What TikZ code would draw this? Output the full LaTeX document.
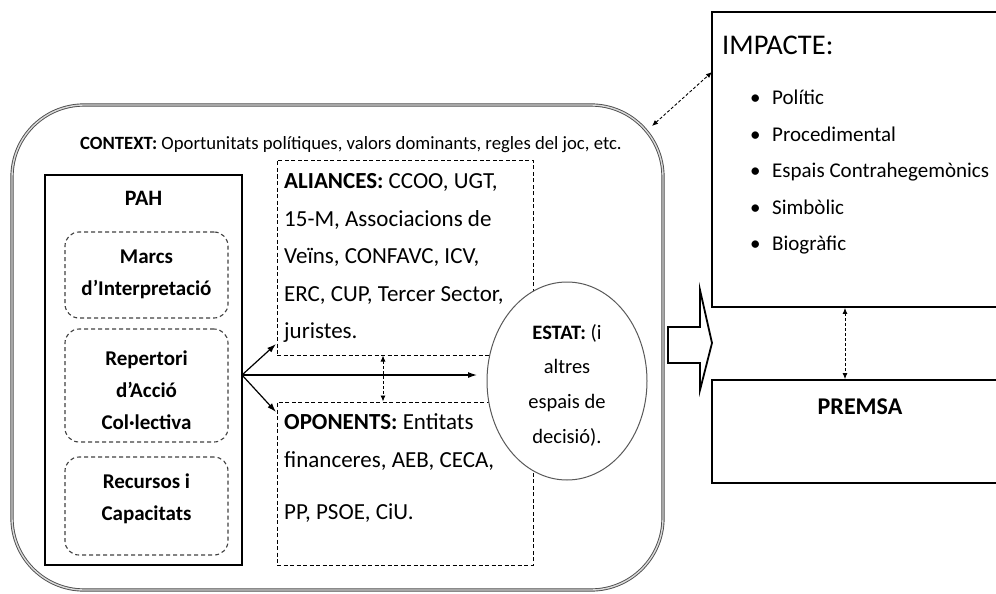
\documentclass[tikz,border=0pt]{standalone}
\usepackage{fontspec}
\setmainfont{Carlito}
\usetikzlibrary{arrows.meta,shapes.geometric}
\begin{document}
\begin{tikzpicture}[x=1pt,y=-1pt,
  outerbox/.style={draw=black!70, line width=0.9pt, double=white!85!black, double distance=1.4pt, rounded corners=72pt, minimum width=651pt, minimum height=485pt, inner sep=0pt},
  solidbox/.style={draw=black, line width=1.6pt, inner sep=0pt},
  dbox/.style={draw=black!75, line width=1.1pt, dash pattern=on 4pt off 3pt, rounded corners=14pt, minimum width=163pt, inner sep=0pt},
  drect/.style={draw=black, line width=1pt, dash pattern=on 4pt off 2.5pt, minimum width=256pt, inner sep=0pt},
  pahtxt/.style={font=\bfseries\fontsize{21}{32}\selectfont, align=center, inner sep=0pt},
  bodytxt/.style={font=\fontsize{23}{37.5}\selectfont, align=left, inner sep=0pt},
  arr/.style={-{Latex[length=9pt,width=6pt]}, line width=1.2pt},
  darr/.style={{Latex[length=6pt,width=5pt]}-{Latex[length=6pt,width=5pt]}, line width=0.9pt, dash pattern=on 3pt off 2pt},
]
\clip (0,0) rectangle (996,594);
\useasboundingbox (0,0) rectangle (996,594);

% outer context box
\node[outerbox] (ctx) at (337.5,347.5) {};
\node[font=\fontsize{18.7}{22}\selectfont, inner sep=0pt] (ctxtxt) at (351,145)
  {\textbf{CONTEXT:} Oportunitats polítiques, valors dominants, regles del joc, etc.};

% PAH
\node[solidbox, minimum width=197pt, minimum height=390pt] (pah) at (143.5,370) {};
\node[font=\bfseries\fontsize{22}{25}\selectfont, inner sep=0pt] (pahlbl) at (143.5,198) {PAH};
\node[dbox, minimum height=86pt] (marcs) at (146.5,275) {};
\node[pahtxt] (marcstxt) at (146.5,274) {Marcs\\d’Interpretació};
\node[dbox, minimum height=113pt] (rep) at (146.5,385.5) {};
\node[pahtxt] (reptxt) at (146.5,390) {Repertori\\d’Acció\\Col·lectiva};
\node[dbox, minimum height=98pt] (rec) at (146.5,506) {};
\node[pahtxt] (rectxt) at (146.5,499) {Recursos i\\Capacitats};

% ALIANCES / OPONENTS
\node[drect, minimum height=195pt] (al) at (405,257.5) {};
\node[bodytxt, anchor=north west] (altxt) at (284,173.5)
  {\textbf{ALIANCES:} CCOO, UGT,\\15-M, Associacions de\\Veïns, CONFAVC, ICV,\\ERC, CUP, Tercer Sector,\\juristes.};
\node[drect, minimum height=163pt] (op) at (405,483.5) {};
\node[bodytxt, anchor=north west] (optxt) at (284,413.5)
  {\textbf{OPONENTS:} Entitats\\financeres, AEB, CECA,\\[15pt]PP, PSOE, CiU.};

% ESTAT
\node[ellipse, draw=black!65, line width=1pt, fill=white, minimum width=160pt, minimum height=198pt, inner sep=0pt] (estat) at (567,381) {};
\node[font=\fontsize{20.5}{34.7}\selectfont, align=center, inner sep=0pt] (estattxt) at (567,385)
  {\textbf{ESTAT:} (i\\altres\\espais de\\decisió).};

% arrows from PAH
\coordinate (src) at (242,375);
\coordinate (a1) at (276,344);
\coordinate (a2) at (477,375);
\coordinate (a3) at (276,412);
\draw[arr] (src) -- (a1);
\draw[arr] (src) -- (a2);
\draw[arr] (src) -- (a3);
\coordinate (mx) at (383,0);
\draw[darr] (al.south -| mx) -- (op.north -| mx);

% IMPACTE
\node[solidbox, line width=1.8pt, minimum width=298pt, minimum height=295pt] (imp) at (861,159.5) {};
\node[font=\fontsize{28.5}{32}\selectfont, anchor=west, inner sep=0pt] (imptxt) at (722,45) {IMPACTE:};
\node[font=\fontsize{21}{36.5}\selectfont, align=left, anchor=north west, inner sep=0pt] (implist) at (750,90)
  {\makebox[22pt][l]{•}Polític\\\makebox[22pt][l]{•}Procedimental\\\makebox[22pt][l]{•}Espais Contrahegemònics\\\makebox[22pt][l]{•}Simbòlic\\\makebox[22pt][l]{•}Biogràfic};

% PREMSA
\node[solidbox, line width=1.8pt, minimum width=298pt, minimum height=103pt] (pre) at (861,431.5) {};
\node[font=\bfseries\fontsize{24}{26}\selectfont, inner sep=0pt] (pretxt) at (860,407) {PREMSA};

\coordinate (mx2) at (845,0);
\draw[darr] (imp.south -| mx2) -- (pre.north -| mx2);
\coordinate (cpt) at (652,126);
\coordinate (ipt) at (712,72);
\draw[darr] (cpt) -- (ipt);

% block arrow
\draw[line width=1.8pt, fill=white, line join=miter] (668,327) -- (700,327) -- (700,290) -- (712,343) -- (700,390) -- (700,363) -- (668,363) -- cycle;
\end{tikzpicture}
\end{document}
